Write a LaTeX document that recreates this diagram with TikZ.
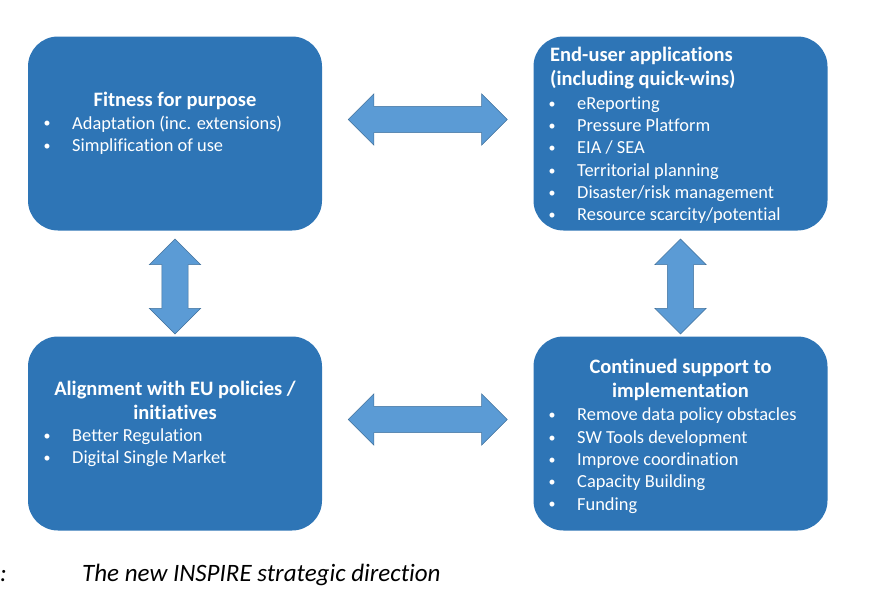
\documentclass[tikz,border=0pt]{standalone}
\usepackage{fontspec}
\setmainfont{Carlito}[Ligatures=NoCommon]
\usetikzlibrary{shapes.arrows, calc, positioning}
\usepackage{xcolor}

\definecolor{boxblue}{HTML}{2E75B6}
\definecolor{arrowblue}{HTML}{5B9BD5}
\definecolor{arrowline}{HTML}{41719C}

\newcommand{\itm}[1]{\makebox[28.5pt][l]{\raisebox{1.2pt}{\fontsize{14}{14}\selectfont\textbullet}}#1}

\tikzset{
  box/.style={draw=none, fill=boxblue, rounded corners=30pt,
    minimum width=294pt, minimum height=194pt, inner sep=0pt},
  boxtitle/.style={text=white, font=\fontsize{20.5}{24}\selectfont\bfseries, inner sep=0pt},
  boxlist/.style={text=white, font=\fontsize{18.4}{22.3}\selectfont, align=left,
    inner sep=0pt, anchor=north west},
  dblarrow/.style={double arrow, fill=arrowblue, draw=arrowline, line width=0.6pt,
    double arrow tip angle=90, double arrow head extend=12.5pt,
    minimum width=50pt, inner sep=12.8pt}
}

\begin{document}
\begin{tikzpicture}[x=1pt, y=-1pt]
  \useasboundingbox (0,0) rectangle (891,614);

  % the four boxes
  \node[box] (fitness) at (175,133.5) {};
  \node[box] (enduser) at (680.5,133.5) {};
  \node[box] (align) at (175,433.5) {};
  \node[box] (support) at (680.5,433.5) {};

  % double arrows between them
  \node[dblarrow, minimum height=159pt] (fe)
    at ($($(fitness.east)!0.5!(enduser.west)$)+(0,-14)$) {};
  \node[dblarrow, minimum height=159pt] (as)
    at ($($(align.east)!0.5!(support.west)$)+(0,-14)$) {};
  \node[dblarrow, minimum height=95pt, rotate=90] (fa)
    at ($($(fitness.south)!0.5!(align.north)$)+(0,3)$) {};
  \node[dblarrow, minimum height=95pt, rotate=90] (es)
    at ($($(enduser.south)!0.5!(support.north)$)+(0,3)$) {};

  % Fitness for purpose
  \node[boxtitle] (fittitle) at (175,101) {Fitness for purpose};
  \node[boxlist] (fitlist) at (43.5,115.5) {\itm{Adaptation (inc. extensions)}\\
    \itm{Simplification of use}};

  % End-user applications
  \node[boxtitle, align=left, anchor=north west] (endtitle) at (550,47)
    {End-user applications\\(including quick-wins)};
  \node[boxlist] (endlist) at (548.5,96.5) {\itm{eReporting}\\
    \itm{Pressure Platform}\\
    \itm{EIA / SEA}\\
    \itm{Territorial planning}\\
    \itm{Disaster/risk management}\\
    \itm{Resource scarcity/potential}};

  % Alignment with EU policies
  \node[boxtitle, align=center] (aligntitle) at (175,400)
    {Alignment with EU policies /\\initiatives};
  \node[boxlist] (alignlist) at (43.5,428.5) {\itm{Better Regulation}\\
    \itm{Digital Single Market}};

  % Continued support
  \node[boxtitle, align=center] (suptitle) at (680.5,380)
    {Continued support to\\implementation};
  \node[boxlist] (suplist) at (548.5,408) {\itm{Remove data policy obstacles}\\
    \itm{SW Tools development}\\
    \itm{Improve coordination}\\
    \itm{Capacity Building}\\
    \itm{Funding}};

  % caption
  \node[anchor=base west, inner sep=0pt, font=\fontsize{25}{29}\selectfont\itshape] (colon)
    at (0,581.5) {:};
  \node[anchor=base west, inner sep=0pt, font=\fontsize{25}{29}\selectfont\itshape] (caption)
    at (82,581.5) {The new INSPIRE strategic direction};
\end{tikzpicture}
\end{document}
